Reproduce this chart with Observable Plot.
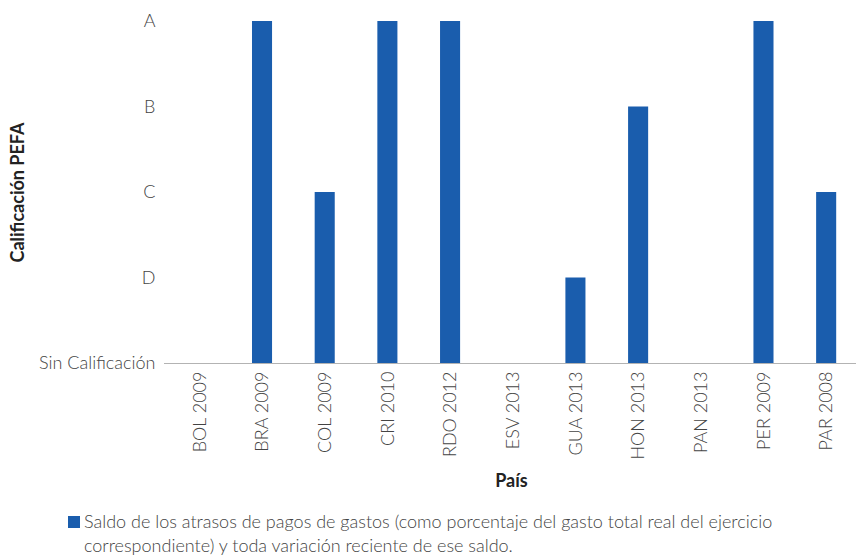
<!DOCTYPE html>
<html>
<head>
<meta charset="utf-8">
<script src="https://cdn.jsdelivr.net/npm/d3@7"></script>
<script src="https://cdn.jsdelivr.net/npm/@observablehq/plot@0.6"></script>
<style>
  html, body { margin: 0; padding: 0; background: #fff; }
  body { width: 856px; height: 558px; overflow: hidden; font-family: Lato, "Open Sans", sans-serif; }
  #legend { position: absolute; left: 68px; top: 509px; font-family: Lato, sans-serif; font-weight: 300; font-size: 18px; color: #444; line-height: 24px; }
  #legend .sw { display: inline-block; width: 12px; height: 12px; background: #1a5dad; margin-right: 4px; vertical-align: 0px; }
  #legend .txt { display: inline-block; width: 760px; vertical-align: top; }
</style>
</head>
<body>
<div id="chart"></div>
<div id="legend"></div>
<script>
const paises = ["BOL 2009", "BRA 2009", "COL 2009", "CRI 2010", "RDO 2012", "ESV 2013", "GUA 2013", "HON 2013", "PAN 2013", "PER 2009", "PAR 2008"];
const calificacion = [0, 4, 2, 4, 4, 0, 1, 3, 0, 4, 2];
const etiquetasY = ["Sin Calificación", "D", "C", "B", "A"];
const serie = "Saldo de los atrasos de pagos de gastos (como porcentaje del gasto total real del ejercicio correspondiente) y toda variación reciente de ese saldo.";
const color = "#1a5dad";

const data = paises.map((p, i) => ({pais: p, valor: calificacion[i]}));

const chart = Plot.plot({
  width: 856,
  height: 500,
  marginTop: 21,
  marginLeft: 166,
  marginRight: 0,
  marginBottom: 137,
  style: {fontFamily: "Lato, sans-serif", fontSize: "18px", color: "#444", fontWeight: 300},
  x: {domain: paises, range: [168, 857.5], round: false, paddingInner: 0.68, paddingOuter: 0.34, label: null},
  y: {domain: [0, 4], label: null},
  marks: [
    Plot.barY(data, {x: "pais", y: "valor", fill: color}),
    Plot.ruleY([0], {stroke: "#b3b3b3", strokeWidth: 1, insetLeft: -2}),
    Plot.axisY({ticks: [0, 1, 2, 3, 4], tickFormat: d => etiquetasY[d], tickSize: 0, tickPadding: 11, label: null, fontSize: 18, fill: "#444"}),
    Plot.axisX({tickSize: 0, tickRotate: -90, tickPadding: 8, label: null, fontSize: 18, fill: "#444"}),
    Plot.text(["Calificación PEFA"], {frameAnchor: "left", textAnchor: "middle", dx: -148, rotate: -90, fontWeight: "bold", fontSize: 18, fill: "#222"}),
    Plot.text(["País"], {frameAnchor: "bottom", textAnchor: "middle", lineAnchor: "middle", dy: 118, fontWeight: "bold", fontSize: 18, fill: "#222"})
  ]
});
document.getElementById("chart").appendChild(chart);

const lg = document.getElementById("legend");
lg.innerHTML = `<span class="sw"></span><span class="txt"></span>`;
lg.querySelector(".txt").textContent = serie;
</script>
</body>
</html>
